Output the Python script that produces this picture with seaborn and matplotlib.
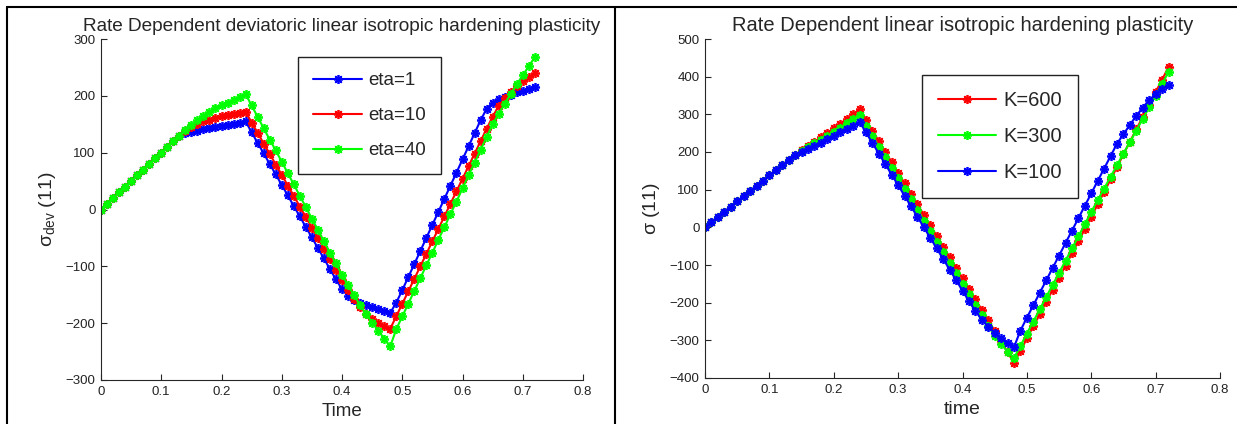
import matplotlib
matplotlib.use("Agg")
import matplotlib.pyplot as plt
from matplotlib.lines import Line2D
import seaborn as sns
import pandas as pd

# ---------------- data ----------------
time = [0.00, 0.01, 0.02, 0.03, 0.04, 0.05, 0.06, 0.07, 0.08, 0.09,
        0.10, 0.11, 0.12, 0.13, 0.14, 0.15, 0.16, 0.17, 0.18, 0.19,
        0.20, 0.21, 0.22, 0.23, 0.24, 0.25, 0.26, 0.27, 0.28, 0.29,
        0.30, 0.31, 0.32, 0.33, 0.34, 0.35, 0.36, 0.37, 0.38, 0.39,
        0.40, 0.41, 0.42, 0.43, 0.44, 0.45, 0.46, 0.47, 0.48, 0.49,
        0.50, 0.51, 0.52, 0.53, 0.54, 0.55, 0.56, 0.57, 0.58, 0.59,
        0.60, 0.61, 0.62, 0.63, 0.64, 0.65, 0.66, 0.67, 0.68, 0.69,
        0.70, 0.71, 0.72]

# Left panel: deviatoric stress for three viscosities
eta1 = [0, 10, 20, 30, 40, 50, 60, 70, 80, 90, 100, 110, 120, 130,
        134, 137, 139, 141, 143, 145, 147, 149, 151, 153, 155,
        136, 117, 99, 80, 62, 43, 25, 6, -12, -31, -49, -68, -86, -105, -123,
        -140, -152, -159, -164, -168, -172, -175, -178, -182,
        -164, -142, -119, -96, -73, -50, -27, -4, 19, 42, 65, 88, 111, 134,
        157, 177, 188, 194, 198, 202, 206, 209, 212, 215]
eta10 = [0, 10, 20, 30, 40, 50, 60, 70, 80, 90, 100, 110, 120, 130,
         139, 146, 151, 155, 158, 161, 164, 166, 168, 170, 172,
         153, 135, 116, 98, 79, 61, 42, 24, 5, -13, -32, -50, -69, -87, -106,
         -124, -142, -158, -172, -183, -192, -199, -205, -210,
         -188, -166, -144, -122, -100, -78, -56, -34, -12, 10, 32, 54, 76, 98,
         120, 142, 163, 182, 196, 207, 217, 226, 233, 240]
eta40 = [0, 10, 20, 30, 40, 50, 60, 70, 80, 90, 100, 110, 120, 130,
         140, 149, 157, 165, 172, 178, 183, 188, 193, 198, 203,
         183, 163, 143, 123, 104, 84, 64, 44, 24, 4, -16, -36, -56, -76, -95,
         -115, -133, -151, -168, -184, -199, -213, -227, -241,
         -211, -188, -166, -143, -121, -98, -76, -53, -31, -8, 14, 37, 60, 82,
         105, 127, 150, 168, 186, 203, 220, 236, 252, 268]

# Right panel: stress for three hardening moduli
k600 = [0, 14, 28, 41, 55, 69, 83, 96, 110, 124, 138, 151, 165, 179, 193,
        204, 215, 227, 239, 251, 263, 275, 288, 300, 313,
        285, 257, 229, 201, 173, 145, 117, 89, 61, 33, 5, -23, -51, -79,
        -107, -135, -163, -191, -219, -247, -275, -303, -331, -360,
        -328, -295, -263, -231, -198, -166, -134, -102, -69, -37, -5, 28,
        61, 94, 127, 160, 194, 227, 260, 293, 326, 359, 392, 425]
k300 = [0, 14, 28, 41, 55, 69, 83, 96, 110, 124, 138, 151, 165, 179, 193,
        203, 213, 223, 233, 243, 254, 265, 276, 287, 298,
        270, 242, 214, 186, 158, 130, 102, 74, 46, 18, -10, -38, -66, -94,
        -122, -150, -178, -206, -234, -262, -288, -310, -330, -347,
        -315, -282, -250, -218, -185, -153, -121, -89, -56, -24, 8, 41,
        72, 103, 134, 165, 196, 226, 257, 288, 319, 350, 381, 412]
k100 = [0, 14, 28, 41, 55, 69, 83, 96, 110, 124, 138, 151, 165, 179, 193,
        201, 209, 217, 225, 234, 243, 252, 261, 270, 280,
        252, 224, 196, 168, 140, 112, 84, 56, 28, 0, -28, -56, -84, -112,
        -140, -168, -196, -222, -245, -264, -280, -295, -307, -318,
        -274, -240, -207, -174, -141, -108, -75, -42, -9, 24, 57, 90,
        123, 156, 189, 222, 247, 272, 296, 318, 338, 353, 366, 378]

left_labels = ["eta=1", "eta=10", "eta=40"]
right_labels = ["K=600", "K=300", "K=100"]
left_title = "Rate Dependent deviatoric linear isotropic hardening plasticity"
right_title = "Rate Dependent linear isotropic hardening plasticity"
x_ticks = [0, 0.1, 0.2, 0.3, 0.4, 0.5, 0.6, 0.7, 0.8]
left_yticks = [-300, -200, -100, 0, 100, 200, 300]
right_yticks = [-400, -300, -200, -100, 0, 100, 200, 300, 400, 500]

# ---------------- style ----------------
sns.set_theme(style="white")
plt.rcParams["font.family"] = ["Liberation Sans", "DejaVu Sans"]
plt.rcParams["mathtext.fontset"] = "custom"
plt.rcParams["mathtext.rm"] = "Liberation Sans"
plt.rcParams["mathtext.it"] = "Liberation Sans"
plt.rcParams["xtick.direction"] = "in"
plt.rcParams["ytick.direction"] = "in"

W, H = 1237, 424
fig = plt.figure(figsize=(W / 100, H / 100), dpi=100)
fig.patch.set_facecolor("white")


def px_axes(x0, x1, ytop, ybot):
    return fig.add_axes([x0 / W, 1 - ybot / H, (x1 - x0) / W, (ybot - ytop) / H])


ax1 = px_axes(101, 583, 39, 380)
ax2 = px_axes(705, 1220, 39, 378)

ast = (8, 2, 0)
mk = dict(marker=ast, markersize=6.5, markeredgewidth=1.25, linewidth=1.5)

colors_left = ["#0000ff", "#ff0000", "#00ff00"]
for vals, lab, c in zip([eta1, eta10, eta40], left_labels, colors_left):
    df = pd.DataFrame({"t": time, "v": vals})
    sns.lineplot(data=df, x="t", y="v", ax=ax1, color=c, label=lab,
                 markeredgecolor=c, sort=False, **mk)

colors_right = ["#ff0000", "#00ff00", "#0000ff"]
for vals, lab, c in zip([k600, k300, k100], right_labels, colors_right):
    df = pd.DataFrame({"t": time, "v": vals})
    sns.lineplot(data=df, x="t", y="v", ax=ax2, color=c, label=lab,
                 markeredgecolor=c, sort=False, **mk)

for ax in (ax1, ax2):
    ax.set_xlim(0, 0.8)
    ax.set_xticks(x_ticks)
    ax.set_xticklabels([("%g" % v) for v in x_ticks])
    for s in ("top", "right"):
        ax.spines[s].set_visible(False)
    for s in ("left", "bottom"):
        ax.spines[s].set_color("#262626")
        ax.spines[s].set_linewidth(0.8)
    ax.tick_params(axis="both", which="both", direction="in", length=4,
                   width=0.8, color="#262626", labelsize=9.5, pad=4,
                   left=True, bottom=True, labelcolor="#222222")
    ax.set_facecolor("white")

ax1.set_ylim(-300, 300)
ax1.set_yticks(left_yticks)
ax2.set_ylim(-400, 500)
ax2.set_yticks(right_yticks)

ax1.set_title(left_title, fontsize=13.7, pad=6)
ax2.set_title(right_title, fontsize=14.5, pad=6)
ax1.set_xlabel("Time", fontsize=13.5, labelpad=4)
ax2.set_xlabel("time", fontsize=14, labelpad=4)
ax1.set_ylabel(r"$\sigma_{\mathrm{dev}}$ (11)", fontsize=14, labelpad=5)
ax2.set_ylabel(r"$\sigma$ (11)", fontsize=14, labelpad=5)

leg_kw = dict(loc="upper left", frameon=True, fancybox=False,
              edgecolor="#222222", handletextpad=0.35,
              borderpad=0.8, borderaxespad=0.0,
              numpoints=1, framealpha=1)
l1 = ax1.legend(bbox_to_anchor=(0.409, 0.947), fontsize=13.5,
                labelspacing=0.95, handlelength=2.6, **leg_kw)
l2 = ax2.legend(bbox_to_anchor=(0.421, 0.894), fontsize=14.5,
                labelspacing=0.85, handlelength=2.9, **leg_kw)
for lg in (l1, l2):
    lg.get_frame().set_linewidth(1.0)

# figure border lines
fig.add_artist(Line2D([7 / W, 1], [1 - 7 / H, 1 - 7 / H], color="black", lw=1.5))
fig.add_artist(Line2D([7 / W, 7 / W], [0, 1 - 7 / H], color="black", lw=1.5))
fig.add_artist(Line2D([615 / W, 615 / W], [0, 1 - 7 / H], color="black", lw=1.5))

fig.savefig("out.png", dpi=100, facecolor="white")
